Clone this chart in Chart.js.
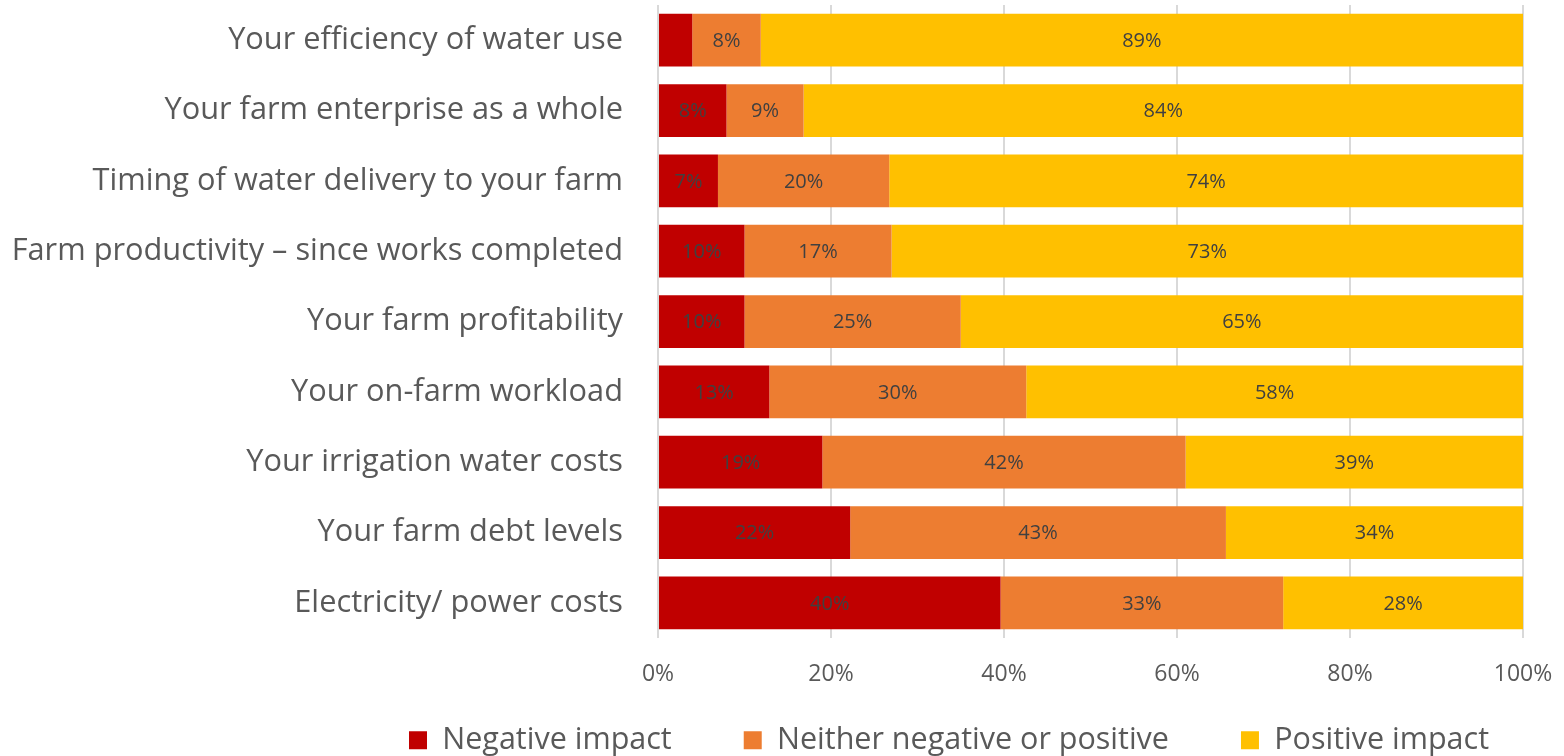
<!DOCTYPE html>
<html>
<head>
<meta charset="utf-8">
<script src="https://cdn.jsdelivr.net/npm/chart.js@4.4.1/dist/chart.umd.min.js"></script>
<style>
  html, body { margin: 0; padding: 0; background: #fff; }
  #impact_chart { display: block; }
</style>
</head>
<body>
<canvas id="impact_chart" width="1564" height="756"></canvas>
<script>
const categories = [
    'Your efficiency of water use',
    'Your farm enterprise as a whole',
    'Timing of water delivery to your farm',
    'Farm productivity \u2013 since works completed',
    'Your farm profitability',
    'Your on-farm workload',
    'Your irrigation water costs',
    'Your farm debt levels',
    'Electricity/ power costs'
];
const negativeImpact = [4, 8, 7, 10, 10, 13, 19, 22, 40];
const neitherImpact = [8, 9, 20, 17, 25, 30, 42, 43, 33];
const positiveImpact = [89, 84, 74, 73, 65, 58, 39, 34, 28];
const xTicks = [0, 20, 40, 60, 80, 100];

const FONT = '"Open Sans", "Noto Sans", sans-serif';
const GREY = '#595959';

// 100% stacked: each row is scaled by its own total
const rowTotals = categories.map((c, i) => negativeImpact[i] + neitherImpact[i] + positiveImpact[i]);
const share = arr => arr.map((v, i) => v / rowTotals[i] * 100);

// percentage labels in the middle of each segment
const segmentLabels = {
    id: 'segmentLabels',
    afterDatasetsDraw(chart) {
        const ctx = chart.ctx;
        ctx.save();
        ctx.font = '20px ' + FONT;
        ctx.fillStyle = '#404040';
        ctx.textAlign = 'center';
        ctx.textBaseline = 'middle';
        chart.data.datasets.forEach((ds, di) => {
            chart.getDatasetMeta(di).data.forEach((bar, i) => {
                const v = ds.raw[i];
                if (v < 5) return; // too narrow to carry a label
                const p = bar.getProps(['x', 'y', 'base'], true);
                ctx.fillText(v + '%', (p.x + p.base) / 2, p.y + 1);
            });
        });
        ctx.restore();
    }
};

// legend row sits under the plot, starting a bit left of the axis
const legendBox = {
    id: 'legendBox',
    afterLayout(chart) {
        const lg = chart.legend;
        lg.left = 337;
        lg.right = chart.width;
        lg.top = 653;
        lg.bottom = chart.height;
    }
};

let ctx = document.getElementById('impact_chart');
let impactChart = new Chart(ctx, {
    type: 'bar',
    plugins: [segmentLabels, legendBox],
    data: {
        labels: categories,
        datasets: [{
            label: 'Negative impact',
            data: share(negativeImpact),
            raw: negativeImpact,
            backgroundColor: '#C00000'
        }, {
            label: 'Neither negative or positive',
            data: share(neitherImpact),
            raw: neitherImpact,
            backgroundColor: '#ED7D31'
        }, {
            label: 'Positive impact',
            data: share(positiveImpact),
            raw: positiveImpact,
            backgroundColor: '#FFC000'
        }]
    },
    options: {
        indexAxis: 'y',
        responsive: false,
        animation: false,
        layout: { padding: { top: 5, right: 41, left: 0, bottom: 0 } },
        datasets: {
            bar: { categoryPercentage: 1, barPercentage: 0.75, borderWidth: 0 }
        },
        scales: {
            x: {
                stacked: true,
                min: 0,
                max: 100,
                afterBuildTicks: scale => { scale.ticks = xTicks.map(v => ({ value: v })); },
                afterFit: scale => {
                    scale.height = 62;
                    scale.paddingLeft = 0;
                    scale.paddingRight = 0;
                },
                grid: { color: '#D9D9D9', lineWidth: 2, drawTicks: false },
                border: { display: false },
                ticks: {
                    padding: 23,
                    color: GREY,
                    font: { family: FONT, size: 23 },
                    callback: v => v + '%'
                }
            },
            y: {
                stacked: true,
                afterFit: scale => {
                    scale.width = 658;
                    scale.paddingTop = 0;
                    scale.paddingBottom = 0;
                },
                grid: { display: false },
                border: { display: false },
                ticks: {
                    padding: 27,
                    color: GREY,
                    font: { family: FONT, size: 30.75 }
                }
            }
        },
        plugins: {
            tooltip: { enabled: false },
            legend: {
                position: 'bottom',
                align: 'start',
                maxHeight: 56,
                labels: {
                    boxWidth: 18,
                    boxHeight: 18,
                    padding: 72,
                    color: GREY,
                    font: { family: FONT, size: 30.5 }
                }
            }
        }
    }
});
</script>
</body>
</html>
